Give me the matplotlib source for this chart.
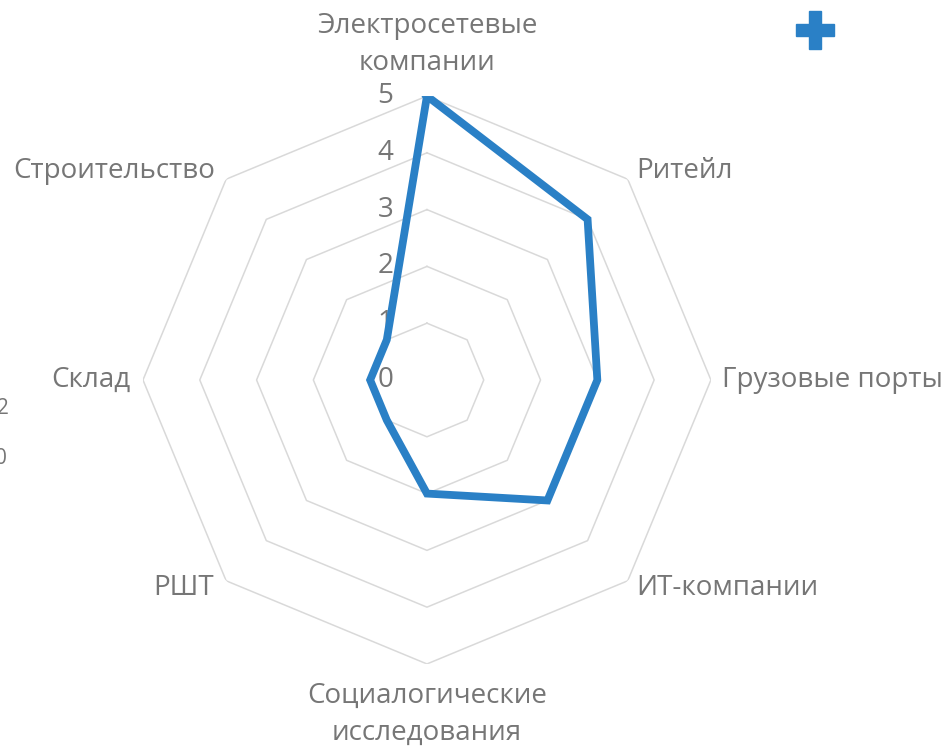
import numpy as np
import matplotlib.pyplot as plt
from matplotlib.lines import Line2D

plt.rcParams['font.family'] = ['Open Sans', 'DejaVu Sans']

# Data (clockwise from the top)
categories = ['Электросетевые\nкомпании', 'Ритейл', 'Грузовые порты', 'ИТ-компании',
              'Социалогические\nисследования', 'РШТ', 'Склад', 'Строительство']
values = [5, 4, 3, 3, 2, 1, 1, 1]
levels = [0, 1, 2, 3, 4, 5]

grey = '#767676'
blue = '#2a80c6'

n = len(categories)
angles = np.arange(n) * 2 * np.pi / n
ang_closed = np.append(angles, angles[0])

fig = plt.figure(figsize=(9.45, 7.5), dpi=100)
ax = fig.add_axes([0.1513, 0.1147, 0.601, 0.7573], projection='polar')
ax.set_theta_zero_location('N')
ax.set_theta_direction(-1)
ax.set_ylim(0, 5)
ax.grid(False)
ax.spines['polar'].set_visible(False)
ax.set_xticks([])
ax.set_yticks([])
ax.patch.set_visible(False)

# Octagonal grid rings
for lv in levels[1:]:
    ax.plot(ang_closed, [lv] * (n + 1), color='#d9d9d9', lw=1.1, zorder=1)

# Data line
ax.plot(ang_closed, values + values[:1], color=blue, lw=5.6,
        solid_joinstyle='miter', zorder=3)

# Radial tick labels (left of the vertical axis)
for lv in levels:
    ax.annotate(str(lv), xy=(0, lv), xytext=(-30, 0), textcoords='offset points',
                ha='center', va='center', fontsize=20, color=grey, zorder=2)

# Category labels
offsets = [(0, 14, 'center', 'bottom'), (6, 6, 'left', 'center'),
           (8, 0, 'left', 'center'), (6, -5, 'left', 'center'),
           (0, -13, 'center', 'top'), (-9, -5, 'right', 'center'),
           (-9, 0, 'right', 'center'), (-8, 6, 'right', 'center')]
for ang, lab, (dx, dy, ha, va) in zip(angles, categories, offsets):
    ax.annotate(lab, xy=(ang, levels[-1]), xytext=(dx, dy), textcoords='offset points',
                ha=ha, va=va, fontsize=20, color=grey, linespacing=1.42,
                annotation_clip=False)

# Fragments of neighbouring objects at the edges
fig.text(9 / 945, 1 - 408 / 750, '2', ha='right', va='center', fontsize=15, color=grey)
fig.text(7 / 945, 1 - 459 / 750, '0', ha='right', va='center', fontsize=15, color=grey)
fig.add_artist(Line2D([815 / 945], [1 - 30 / 750], marker='P', ms=28, color=blue,
                      mec=blue, lw=0, transform=fig.transFigure))

fig.savefig('out.png', dpi=100)
